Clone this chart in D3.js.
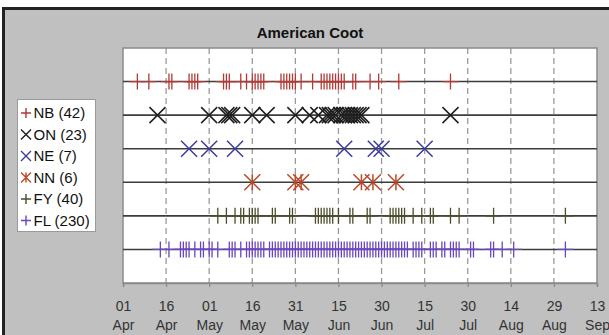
<!DOCTYPE html>
<html>
<head>
<meta charset="utf-8">
<script src="https://cdn.jsdelivr.net/npm/d3@7"></script>
<style>
  body { margin: 0; background: #fff; }
  svg { display: block; font-family: "Liberation Sans", Arial, sans-serif; }
</style>
</head>
<body>
<div id="chart"></div>
<script>
const title = "American Coot";
const year = 2010;

const seriesNames = ["NB", "ON", "NE", "NN", "FY", "FL"];
const seriesCounts = [42, 23, 7, 6, 40, 230];
const seriesColors = ["#b23a36", "#1e1e1e", "#3b3b9e", "#b84a2a", "#4d4d2c", "#6a46c0"];
const seriesMarkers = ["plus", "cross", "cross", "star", "plus", "plus"];

const tickDates = ["04-01", "04-16", "05-01", "05-16", "05-31", "06-15",
  "06-30", "07-15", "07-30", "08-14", "08-29", "09-13"];

const nbDates = ["04-06", "04-10", "04-17", "04-18", "04-24", "04-25", "04-26", "04-27",
  "05-06", "05-07", "05-08", "05-12", "05-14", "05-16", "05-17", "05-18", "05-19", "05-20",
  "05-26", "05-27", "05-28", "05-29", "05-30", "05-31", "06-02", "06-06", "06-09", "06-10",
  "06-11", "06-12", "06-13", "06-14", "06-15", "06-16", "06-17", "06-20", "06-21", "06-26",
  "06-29", "07-06", "07-24"];

const onDates = ["04-13", "05-01", "05-07", "05-08", "05-09", "05-16", "05-21", "05-31",
  "06-05", "06-08", "06-11", "06-12", "06-13", "06-14", "06-16", "06-17", "06-18", "06-19",
  "06-20", "06-21", "06-22", "06-23", "07-24"];

const neDates = ["04-24", "05-01", "05-10", "06-17", "06-28", "06-30", "07-15"];

const nnDates = ["05-16", "05-31", "06-02", "06-23", "06-27", "07-05"];

const fyDates = ["05-04", "05-07", "05-10", "05-12", "05-13", "05-15", "05-16", "05-17",
  "05-18", "05-23", "05-24", "05-29", "05-30", "06-07", "06-08", "06-09", "06-10", "06-11",
  "06-12", "06-13", "06-15", "06-19", "06-20", "06-25", "06-26", "07-03", "07-04", "07-05",
  "07-06", "07-07", "07-08", "07-11", "07-14", "07-17", "07-18", "07-24", "07-27", "08-08",
  "09-02"];

const flDates = ["04-14", "04-17", "04-21", "04-22", "04-23", "04-24", "04-26", "04-28",
  "04-29", "05-01", "05-02", "05-04", "05-08", "05-09", "05-10", "05-12", "05-14", "05-15",
  "05-16", "05-17", "05-18", "05-19", "05-20", "05-22", "05-23", "05-24", "05-25", "05-26",
  "05-27", "05-28", "05-29", "05-30", "05-31", "06-01", "06-02", "06-03", "06-04", "06-05",
  "06-06", "06-07", "06-08", "06-09", "06-10", "06-11", "06-12", "06-13", "06-14", "06-15",
  "06-16", "06-17", "06-18", "06-19", "06-20", "06-21", "06-22", "06-23", "06-24", "06-25",
  "06-26", "06-27", "06-28", "06-29", "06-30", "07-01", "07-02", "07-03", "07-04", "07-05",
  "07-06", "07-07", "07-08", "07-09", "07-11", "07-12", "07-13", "07-14", "07-17", "07-18",
  "07-19", "07-21", "07-22", "07-24", "07-25", "07-26", "07-27", "07-31", "08-01", "08-07",
  "08-08", "08-11", "08-15", "09-02"];

const seriesDates = [nbDates, onDates, neDates, nnDates, fyDates, flDates];

const width = 609;
const height = 335;
const margin = { top: 48, right: 12, bottom: 52, left: 123 };

const parse = d3.timeParse("%Y-%m-%d");
const toDate = (s) => parse(`${year}-${s}`);
const ticks = tickDates.map(toDate);

const svg = d3.select("#chart")
  .append("svg")
  .attr("width", width)
  .attr("height", height);

// Outer chart frame
svg.append("rect")
  .attr("x", 3.5)
  .attr("y", 8.5)
  .attr("width", 640)
  .attr("height", 360)
  .attr("fill", "#c0c0c0")
  .attr("stroke", "#222")
  .attr("stroke-width", 3);

const x = d3.scaleTime()
  .domain([ticks[0], ticks[ticks.length - 1]])
  .range([margin.left, width - margin.right]);

const y = d3.scaleLinear()
  .domain([0, seriesNames.length + 1])
  .range([height - margin.bottom, margin.top]);

const plotW = x.range()[1] - x.range()[0];
const plotH = y.range()[0] - y.range()[1];

svg.append("rect")
  .attr("x", margin.left)
  .attr("y", margin.top)
  .attr("width", plotW)
  .attr("height", plotH)
  .attr("fill", "#fff");

// Dashed vertical gridlines
svg.append("g")
  .selectAll("line")
  .data(ticks.slice(1, -1))
  .enter()
  .append("line")
  .attr("x1", (d) => x(d))
  .attr("x2", (d) => x(d))
  .attr("y1", margin.top)
  .attr("y2", y.range()[0])
  .attr("stroke", "#9a9a9a")
  .attr("stroke-width", 1.3)
  .attr("stroke-dasharray", "6,4");

// Plot border
svg.append("rect")
  .attr("x", margin.left)
  .attr("y", margin.top)
  .attr("width", plotW)
  .attr("height", plotH)
  .attr("fill", "none")
  .attr("stroke", "#8a8a8a")
  .attr("stroke-width", 1.5);

// x axis
const xAxis = d3.axisBottom(x)
  .tickValues(ticks)
  .tickSize(4)
  .tickFormat("");

const axisG = svg.append("g")
  .attr("transform", `translate(0,${y.range()[0]})`)
  .call(xAxis);
axisG.select(".domain").attr("stroke", "#8a8a8a").attr("stroke-width", 1.5);
axisG.selectAll(".tick line").attr("stroke", "#8a8a8a").attr("stroke-width", 1.3);

const tickLabel = axisG.selectAll(".tick text")
  .attr("fill", "#333")
  .attr("font-size", "14px")
  .attr("y", 0)
  .attr("dy", null);
tickLabel.selectAll("tspan")
  .data((d) => [d3.timeFormat("%d")(d), d3.timeFormat("%b")(d)])
  .enter()
  .append("tspan")
  .attr("x", 0)
  .attr("y", (d, i) => 28 + i * 19)
  .text((d) => d);

function markerPath(type, r) {
  const plus = `M${-r},0H${r}M0,${-r}V${r}`;
  const cross = `M${-r},${-r}L${r},${r}M${-r},${r}L${r},${-r}`;
  if (type === "plus") return plus;
  if (type === "cross") return cross;
  return cross + `M0,${-r}V${r}`;
}

// Rows
const rows = svg.append("g")
  .selectAll("g")
  .data(seriesNames)
  .enter()
  .append("g")
  .attr("transform", (d, i) => `translate(0,${y(seriesNames.length - i)})`);

rows.append("line")
  .attr("x1", x.range()[0])
  .attr("x2", x.range()[1])
  .attr("stroke", "#3c3c3c")
  .attr("stroke-width", 1.6);

rows.each(function (name, i) {
  d3.select(this)
    .selectAll("path")
    .data(seriesDates[i].map(toDate))
    .enter()
    .append("path")
    .attr("transform", (d) => `translate(${x(d)},0)`)
    .attr("d", markerPath(seriesMarkers[i], 8))
    .attr("fill", "none")
    .attr("stroke", seriesColors[i])
    .attr("stroke-width", seriesMarkers[i] === "plus" ? 1.3 : 1.5);
});

// Title
svg.append("text")
  .attr("x", 310)
  .attr("y", 38)
  .attr("text-anchor", "middle")
  .attr("font-size", "15px")
  .attr("font-weight", "bold")
  .attr("fill", "#111")
  .text(title);

// Legend
const legend = svg.append("g");
legend.append("rect")
  .attr("x", 17.5)
  .attr("y", 99.5)
  .attr("width", 78)
  .attr("height", 132)
  .attr("fill", "#fff")
  .attr("stroke", "#9a9a9a");

const items = legend.selectAll("g.item")
  .data(seriesNames)
  .enter()
  .append("g")
  .attr("class", "item")
  .attr("transform", (d, i) => `translate(26,${113 + i * 21.5})`);

items.append("path")
  .attr("d", (d, i) => markerPath(seriesMarkers[i], 5))
  .attr("fill", "none")
  .attr("stroke", (d, i) => seriesColors[i])
  .attr("stroke-width", 1.4);

items.append("text")
  .attr("x", 7.5)
  .attr("dy", "0.36em")
  .attr("font-size", "15px")
  .attr("fill", "#111")
  .text((d, i) => `${d} (${seriesCounts[i]})`);
</script>
</body>
</html>
